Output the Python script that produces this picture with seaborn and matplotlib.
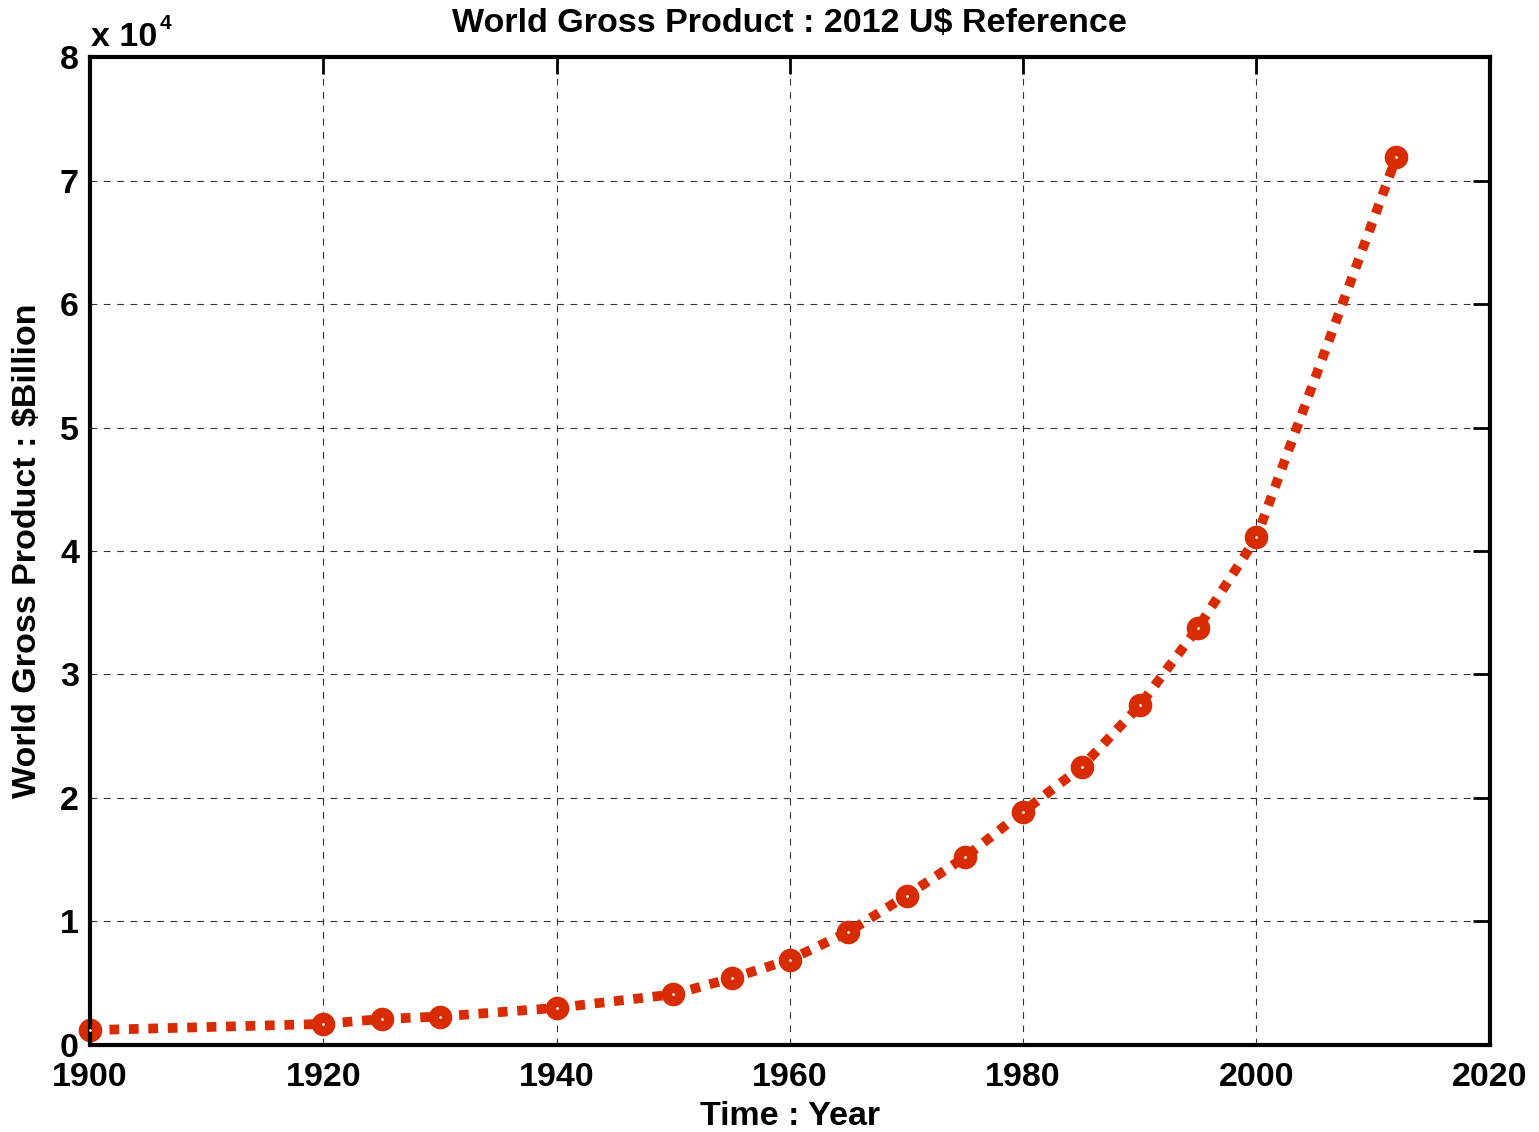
import pandas as pd
import matplotlib.pyplot as plt
import seaborn as sns

# World gross product, billions of 2012 US$
years = [1900, 1920, 1925, 1930, 1940, 1950, 1955, 1960, 1965, 1970,
         1975, 1980, 1985, 1990, 1995, 2000, 2012]
wgp = [1200, 1700, 2100, 2300, 3000, 4100, 5400, 6900, 9150, 12100,
       15200, 18900, 22500, 27500, 33800, 41100, 71900]
x_ticks = [1900, 1920, 1940, 1960, 1980, 2000, 2020]
y_ticks = [0, 1, 2, 3, 4, 5, 6, 7, 8]

df = pd.DataFrame({"year": years, "wgp": [v / 1e4 for v in wgp]})

sns.set_style("white")
plt.rcParams['font.family'] = ['Liberation Sans', 'DejaVu Sans']
plt.rcParams['font.weight'] = 'bold'
plt.rcParams['text.color'] = 'black'
plt.rcParams['axes.labelcolor'] = 'black'
plt.rcParams['xtick.color'] = 'black'
plt.rcParams['ytick.color'] = 'black'

fs = 24.5

fig = plt.figure(figsize=(15.39, 11.32), dpi=100)
ax = fig.add_axes([0.0585, 0.0769, 0.9095, 0.8727])

red = "#d92b00"
sns.lineplot(data=df, x="year", y="wgp", ax=ax, color=red, linewidth=7,
             linestyle=(0, (1, 1)), marker="o", markersize=17,
             markeredgewidth=0, markerfacecolor=red, clip_on=False)
ax.scatter(df["year"], df["wgp"], s=1, color="white", zorder=5, clip_on=False)

ax.set_xlim(1900, 2020)
ax.set_ylim(0, 8)
ax.set_xticks(x_ticks)
ax.set_yticks(y_ticks)
ax.tick_params(axis="both", direction="in", length=12, width=2, labelsize=fs,
               top=True, right=True)
ax.tick_params(axis="x", pad=12)
ax.tick_params(axis="y", pad=8)
for lbl in ax.get_xticklabels() + ax.get_yticklabels():
    lbl.set_fontweight("bold")
ax.grid(True, color="black", linestyle=(0, (6, 6)), linewidth=0.8, alpha=0.8)
for s in ax.spines.values():
    s.set_linewidth(3)
    s.set_color("black")

ax.set_title("World Gross Product : 2012 U$ Reference", fontsize=fs, fontweight="bold", pad=18)
ax.set_xlabel("Time : Year", fontsize=fs, fontweight="bold", labelpad=6)
ax.set_ylabel("World Gross Product : $Billion", fontsize=fs, fontweight="bold", labelpad=12)
ax.text(0.001, 1.004, "x 10", transform=ax.transAxes, fontsize=fs,
        fontweight="bold", ha="left", va="bottom")
ax.text(0.05, 1.024, "4", transform=ax.transAxes, fontsize=15,
        fontweight="bold", ha="left", va="bottom")

fig.savefig("out.png", dpi=100)
